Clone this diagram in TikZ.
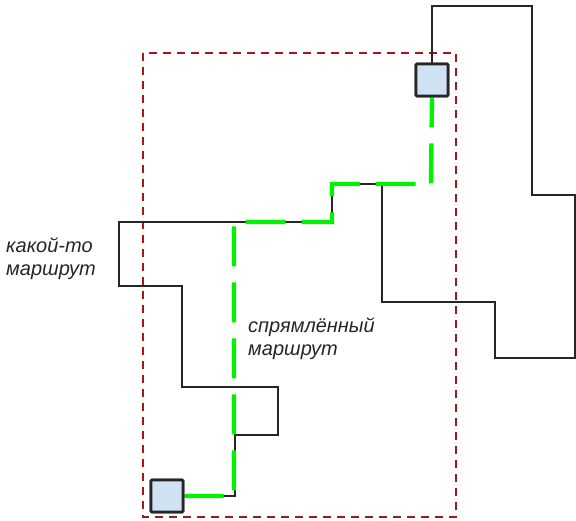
\documentclass[tikz,border=0pt]{standalone}
\usepackage{fontspec}
\setmainfont{Liberation Sans}
\begin{document}
\begin{tikzpicture}[x=1pt,y=-1pt,
  route/.style={draw=black!85,line width=2.2pt,line join=miter},
  straight/.style={draw=green!95!black,line width=4.4pt,dash pattern=on 40pt off 16pt,dash phase=10pt},
  frame/.style={draw=red!60!black!90,line width=2.2pt,dash pattern=on 8pt off 6pt},
  box/.style={draw=black!85,line width=2.6pt,minimum size=32pt,inner sep=0pt,rounded corners=1pt},
  lbl/.style={font=\fontsize{20}{23}\selectfont\itshape,text=black!85,align=left,anchor=base west,inner sep=0pt}]
\useasboundingbox (0,0) rectangle (576,520);
\definecolor{boxblue}{HTML}{CFE2F3}
% frame
\draw[frame] (143,53) rectangle (456,517);
% squares
\node[box,fill=boxblue] (tr) at (432,80) {};
\node[box,fill=boxblue] (bl) at (167,496) {};
% coordinates of the black route
\coordinate (r1) at (432,6);
\coordinate (r2) at (532,6);
\coordinate (r3) at (532,195);
\coordinate (r4) at (575,195);
\coordinate (r5) at (575,358);
\coordinate (r6) at (495,358);
\coordinate (r7) at (495,302);
\coordinate (r8) at (382,302);
\coordinate (r9) at (382,184);
\coordinate (r10) at (332,184);
\coordinate (r11) at (332,222);
\coordinate (r12) at (119,222);
\coordinate (r13) at (119,286);
\coordinate (r14) at (182,286);
\coordinate (r15) at (182,387);
\coordinate (r16) at (278,387);
\coordinate (r17) at (278,435);
\coordinate (r18) at (235,435);
\coordinate (r19) at (235,496);
\draw[route] (tr.north) -- (r1) -- (r2) -- (r3) -- (r4) -- (r5) -- (r6) -- (r7) -- (r8) -- (r9) -- (r10) -- (r11) -- (r12) -- (r13) -- (r14) -- (r15) -- (r16) -- (r17) -- (r18) -- (r19) -- (bl.east);
% straightened route
\coordinate (g1) at (431,184);
\coordinate (g2) at (332,184);
\coordinate (g3) at (332,222);
\coordinate (g4) at (234,222);
\coordinate (g5) at (234,496);
\draw[straight] (tr.south) -- (g1) -- (g2) -- (g3) -- (g4) -- (g5) -- (bl.east);
\node[box,fill=boxblue] at (tr) {};
\node[box,fill=boxblue] at (bl) {};
% labels
\node[lbl] (l1a) at (6,252) {какой-то};
\node[lbl] (l1b) at (6,275) {маршрут};
\node[lbl] (l2a) at (248,332) {спрямлённый};
\node[lbl] (l2b) at (248,355) {маршрут};
\end{tikzpicture}
\end{document}
